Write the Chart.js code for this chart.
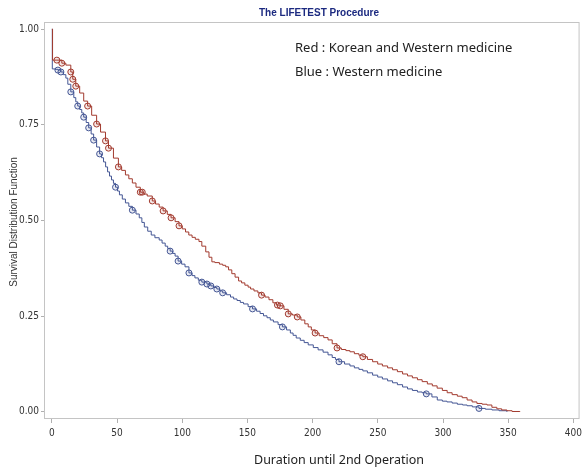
<!DOCTYPE html>
<html>
<head>
<meta charset="utf-8">
<script src="https://cdn.jsdelivr.net/npm/chart.js@4"></script>
<style>
  html, body { margin: 0; padding: 0; background: #fff; }
  #wrap { width: 586px; height: 470px; }
</style>
</head>
<body>
<div id="wrap"><canvas id="chart" width="586" height="470"></canvas></div>
<script>
// Kaplan-Meier estimates (days, survival)
const redTime = [0, 0.5, 3.8, 7.6, 10.7, 14.5, 16.0, 18.3, 21.3, 24.4, 27.4, 30.5, 34.3, 37.3, 41.1, 43.4, 47.2, 51.0,
  53.5, 56.4, 59, 61.7, 64.5, 67.8, 70.5, 73.1, 77.0, 79.5, 82.3, 85.3, 88.5, 91.4, 94.5, 97.5, 100, 102.5, 105,
  107.5, 110, 112.8, 115, 118, 120.5, 122.7, 125, 128.5, 131, 133.3, 135.5, 138, 140.5, 143.2, 145.5, 148, 150.5,
  152.4, 155, 158, 160.8, 163.5, 166.5, 169.5, 172.2, 175.2, 178, 181.3, 184.5, 188.2, 191, 194, 196.6, 199, 201.9,
  205, 208.5, 211.8, 215, 218.7, 222, 225.5, 228.6, 232, 235.5, 238.5, 242, 246, 249.9, 253.5, 257.5, 261.3, 265,
  269, 272.8, 276.5, 280.4, 284, 288, 291.8, 295.5, 299.5, 303.2, 307, 311, 314.7, 318.5, 322.3, 326, 330, 333.7,
  337.5, 341.3, 345, 349, 353, 359];
const redSurv = [1.0, 0.919, 0.919, 0.911, 0.906, 0.888, 0.869, 0.851, 0.833, 0.812, 0.799, 0.775, 0.752, 0.731, 0.708,
  0.689, 0.663, 0.640, 0.631, 0.619, 0.609, 0.598, 0.587, 0.574, 0.569, 0.564, 0.551, 0.543, 0.535, 0.525, 0.516,
  0.507, 0.497, 0.486, 0.478, 0.470, 0.462, 0.456, 0.451, 0.445, 0.433, 0.418, 0.404, 0.392, 0.390, 0.386, 0.383,
  0.379, 0.371, 0.361, 0.352, 0.342, 0.337, 0.331, 0.326, 0.321, 0.316, 0.311, 0.305, 0.300, 0.293, 0.285, 0.279,
  0.277, 0.268, 0.256, 0.253, 0.248, 0.240, 0.230, 0.222, 0.214, 0.206, 0.199, 0.194, 0.188, 0.178, 0.167, 0.163,
  0.160, 0.157, 0.152, 0.148, 0.144, 0.137, 0.131, 0.125, 0.120, 0.115, 0.110, 0.105, 0.099, 0.094, 0.089, 0.084,
  0.079, 0.073, 0.068, 0.062, 0.056, 0.050, 0.045, 0.041, 0.037, 0.031, 0.026, 0.022, 0.020, 0.018, 0.012, 0.008,
  0.005, 0.003, 0.001, 0.0];

const blueTime = [0, 0.3, 2.5, 4.6, 6.9, 8.8, 10.7, 12.2, 14.5, 16.8, 18.3, 19.8, 21.3, 22.9, 24.4, 26.3, 28.2, 30.1,
  32.0, 34.3, 36.6, 38, 39.6, 41.2, 42.7, 44.2, 45.7, 47.2, 48.8, 50.3, 51.8, 54, 56.4, 59, 61.7, 64.5, 67, 69, 70.9,
  73.5, 76.2, 79, 82.3, 84.5, 86.9, 88.8, 90.7, 92.6, 94.5, 96.8, 99.5, 102.1, 105.1, 107.5, 109.7, 112.3, 115, 118.9,
  121.9, 124.2, 126.5, 128.8, 131, 134, 137, 139.4, 142, 144.5, 147, 150.5, 153.9, 157, 159.7, 162.3, 165, 167.5,
  169.9, 173.5, 176.8, 180, 182.9, 185, 187.4, 190.5, 193.5, 196.6, 200.5, 204.2, 208, 211.8, 215, 217.5, 220.2,
  224.5, 228.6, 232, 235.5, 238.5, 242, 246, 249.9, 253.5, 257.5, 261.3, 265, 269, 272.8, 276.5, 280.4, 284, 287.2,
  291.5, 295.6, 299.5, 303, 307, 311, 315, 318.5, 322.5, 327.6, 332.5, 337.5, 343, 349];
const blueSurv = [1.0, 0.896, 0.895, 0.893, 0.888, 0.881, 0.872, 0.856, 0.836, 0.821, 0.810, 0.799, 0.790, 0.781, 0.770,
  0.756, 0.742, 0.726, 0.710, 0.692, 0.674, 0.664, 0.653, 0.640, 0.627, 0.616, 0.606, 0.597, 0.587, 0.577, 0.567,
  0.556, 0.546, 0.537, 0.527, 0.517, 0.507, 0.495, 0.483, 0.472, 0.462, 0.455, 0.449, 0.441, 0.433, 0.427, 0.420,
  0.414, 0.407, 0.394, 0.386, 0.379, 0.363, 0.356, 0.350, 0.344, 0.339, 0.334, 0.329, 0.325, 0.321, 0.316, 0.311,
  0.306, 0.300, 0.295, 0.291, 0.286, 0.282, 0.275, 0.269, 0.263, 0.257, 0.251, 0.246, 0.240, 0.235, 0.228, 0.222,
  0.214, 0.206, 0.200, 0.193, 0.187, 0.181, 0.175, 0.168, 0.162, 0.156, 0.149, 0.142, 0.137, 0.131, 0.125, 0.120,
  0.115, 0.111, 0.107, 0.102, 0.096, 0.091, 0.086, 0.081, 0.076, 0.071, 0.065, 0.060, 0.056, 0.052, 0.050, 0.047,
  0.039, 0.031, 0.028, 0.026, 0.023, 0.020, 0.018, 0.016, 0.013, 0.009, 0.007, 0.005, 0.003, 0.0];

// censored times (circles)
const redCensor = [3.8, 7.6, 14.5, 16.0, 18.3, 27.4, 34.3, 41.1, 43.4, 51.0, 67.8, 69.3, 77.0, 85.3, 91.4, 97.5,
  160.8, 173, 175.2, 181.3, 188.2, 201.9, 218.7, 238.5];
const blueCensor = [4.6, 6.9, 14.5, 19.8, 24.4, 28.2, 32.0, 36.6, 48.8, 61.7, 90.7, 96.8, 105.1, 115, 118.9, 121.9,
  126.5, 131, 153.9, 176.8, 220.2, 287.2, 327.6];

const xTicks = [0, 50, 100, 150, 200, 250, 300, 350, 400];
const yTicks = [0, 0.25, 0.5, 0.75, 1.0];

const RED = '#a23a2e';
const BLUE = '#445694';

function survAt(times, surv, t) {
  let s = surv[0];
  for (let i = 0; i < times.length; i++) {
    if (times[i] <= t) s = surv[i];
  }
  return s;
}

const redLine = redTime.map((t, i) => ({ x: t, y: redSurv[i] }));
const blueLine = blueTime.map((t, i) => ({ x: t, y: blueSurv[i] }));
const redMarks = redCensor.map(t => ({ x: t, y: survAt(redTime, redSurv, t) }));
const blueMarks = blueCensor.map(t => ({ x: t, y: survAt(blueTime, blueSurv, t) }));

const textPlugin = {
  id: 'texts',
  beforeDatasetsDraw(chart) {
    const { ctx, chartArea: a } = chart;
    ctx.save();
    ctx.strokeStyle = '#c4c4c4';
    ctx.lineWidth = 1;
    ctx.strokeRect(a.left - 0.5, a.top - 0.5, a.right - a.left + 1, a.bottom - a.top + 1);
    ctx.restore();
  },
  afterDraw(chart) {
    const ctx = chart.ctx;
    ctx.save();
    ctx.textBaseline = 'middle';

    ctx.fillStyle = '#1c2a80';
    ctx.font = 'bold 10px "Liberation Sans", Arial, sans-serif';
    ctx.textAlign = 'center';
    ctx.fillText('The LIFETEST Procedure', 319, 13);

    ctx.fillStyle = '#222';
    ctx.font = '13px "Noto Sans", sans-serif';
    ctx.textAlign = 'left';
    ctx.fillText('Red : Korean and Western medicine', 295, 48);
    ctx.fillText('Blue : Western medicine', 295, 72);

    ctx.textAlign = 'center';
    ctx.font = '12.5px "Noto Sans", sans-serif';
    ctx.fillText('Duration until 2nd Operation', 339, 460);

    ctx.fillStyle = '#333';
    ctx.font = '10px "Liberation Sans", Arial, sans-serif';
    ctx.translate(14, 222);
    ctx.rotate(-Math.PI / 2);
    ctx.fillText('Survival Distribution Function', 0, 0);
    ctx.restore();
  }
};

new Chart(document.getElementById('chart'), {
  type: 'line',
  data: {
    datasets: [
      { data: redLine, borderColor: RED, borderWidth: 1, stepped: true, pointRadius: 0, fill: false },
      { data: blueLine, borderColor: BLUE, borderWidth: 1, stepped: true, pointRadius: 0, fill: false },
      { type: 'scatter', data: redMarks, borderColor: RED, backgroundColor: 'rgba(162,58,46,0.12)',
        pointRadius: 3, borderWidth: 1, showLine: false },
      { type: 'scatter', data: blueMarks, borderColor: BLUE, backgroundColor: 'rgba(68,86,148,0.12)',
        pointRadius: 3, borderWidth: 1, showLine: false }
    ]
  },
  options: {
    responsive: false,
    animation: false,
    layout: { padding: { top: 23, right: 3, left: 0, bottom: 0 } },
    plugins: { legend: { display: false }, tooltip: { enabled: false }, title: { display: false } },
    scales: {
      x: {
        type: 'linear',
        min: -5.3,
        max: 404,
        afterBuildTicks: s => { s.ticks = xTicks.map(v => ({ value: v })); },
        afterFit: s => { s.height = 52; },
        grid: { drawOnChartArea: false, drawTicks: true, tickLength: 5, color: '#b0b0b0' },
        border: { display: false },
        ticks: {
          padding: 4,
          color: '#333',
          maxRotation: 0,
          font: { family: '"Liberation Sans Narrow", "DejaVu Sans Condensed", sans-serif', size: 10 },
          callback: v => String(v)
        }
      },
      y: {
        min: -0.016,
        max: 1.016,
        afterBuildTicks: s => { s.ticks = yTicks.map(v => ({ value: v })); },
        afterFit: s => { s.width = 45; },
        grid: { drawOnChartArea: false, drawTicks: true, tickLength: 4, color: '#b0b0b0' },
        border: { display: false },
        ticks: {
          padding: 2,
          color: '#333',
          font: { family: '"Liberation Sans Narrow", "DejaVu Sans Condensed", sans-serif', size: 10 },
          callback: v => Number(v).toFixed(2)
        }
      }
    }
  },
  plugins: [textPlugin]
});
</script>
</body>
</html>
